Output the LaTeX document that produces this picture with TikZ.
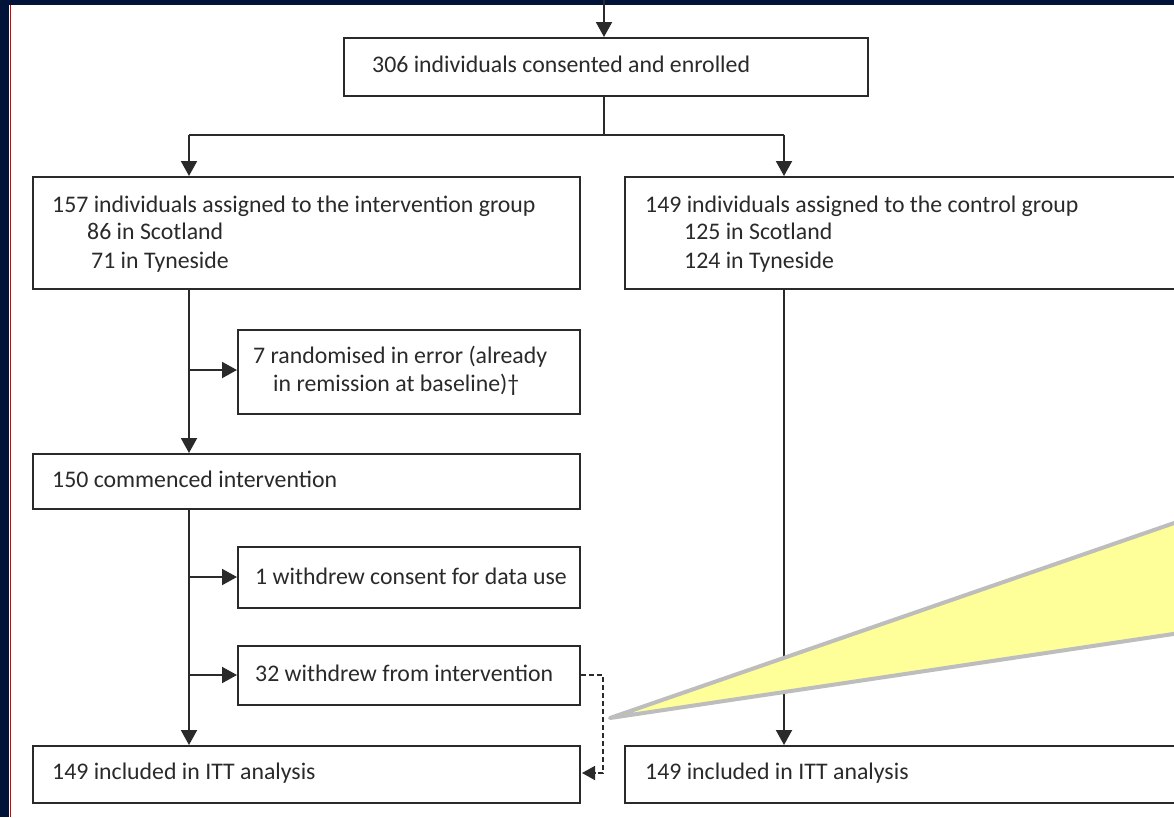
\documentclass[tikz,border=0pt]{standalone}
\usepackage{fontspec}
\setmainfont{Carlito}
\usetikzlibrary{arrows.meta}
\definecolor{navy}{HTML}{011338}
\definecolor{ink}{HTML}{2A2A2A}
\definecolor{wedge}{HTML}{FFFF99}
\definecolor{wedgeline}{HTML}{BDBDBD}
\tikzset{
  box/.style={draw=ink, line width=2pt, rectangle, inner sep=0pt, anchor=north west},
  txt/.style={anchor=base west, inner sep=0pt, text=ink, font=\fontsize{23.8}{24}\selectfont},
  flow/.style={draw=ink, line width=2pt, -{Triangle[length=15pt,width=16pt]}},
  plain/.style={draw=ink, line width=2pt},
}
\begin{document}
\begin{tikzpicture}[x=1pt,y=-1pt]
\useasboundingbox (0,0) rectangle (1174,817);
\fill[white] (0,0) rectangle (1174,817);
\fill[navy] (0,0) rectangle (1174,5);
\fill[navy] (0,0) rectangle (9,817);
\draw[red!85!black, line width=1pt] (10,5) -- (10,817);
% boxes
\node[box, minimum width=524pt, minimum height=58pt] (b1) at (343,37) {};
\node[box, minimum width=547pt, minimum height=112pt] (iv) at (32,176) {};
\node[box, minimum width=560pt, minimum height=112pt] (ct) at (624,176) {};
\node[box, minimum width=342pt, minimum height=84pt] (err) at (237,329) {};
\node[box, minimum width=547pt, minimum height=55pt] (com) at (32,453) {};
\node[box, minimum width=342pt, minimum height=61pt] (wc) at (237,546) {};
\node[box, minimum width=342pt, minimum height=59pt] (wi) at (237,645) {};
\node[box, minimum width=547pt, minimum height=57pt] (ittl) at (32,745) {};
\node[box, minimum width=560pt, minimum height=57pt] (ittr) at (624,745) {};
% texts
\node[txt] at (372,72) {306 individuals consented and enrolled};
\node[txt] at (52,212) {157 individuals assigned to the intervention group};
\node[txt] at (87,239) {86 in Scotland};
\node[txt] at (91,268) {71 in Tyneside};
\node[txt] at (645,212) {149 individuals assigned to the control group};
\node[txt] at (684,239) {125 in Scotland};
\node[txt] at (684,268) {124 in Tyneside};
\node[txt] at (253,363) {7 randomised in error (already};
\node[txt] at (273,391) {in remission at baseline)†};
\node[txt] at (52,487) {150 commenced intervention};
\node[txt] at (255,584) {1 withdrew consent for data use};
\node[txt] at (255,681) {32 withdrew from intervention};
\node[txt] at (52,779) {149 included in ITT analysis};
\node[txt] at (645,779) {149 included in ITT analysis};
% connectors
\coordinate (top) at (604,0);
\draw[flow] (top) -- (b1.north -| top);
\coordinate (split) at (604,135);
\draw[plain] (b1.south -| split) -- (split);
\draw[plain] (189,135) -- (784,135);
\draw[flow] (189,135) -- (189,176);
\draw[flow] (784,135) -- (784,176);
\draw[flow] (189,288) -- (189,453);
\draw[flow] (189,370) -- (err.west |- 0,370);
\draw[flow] (189,508) -- (189,745);
\draw[flow] (189,577) -- (wc.west |- 0,577);
\draw[flow] (189,675) -- (wi.west |- 0,675);
\draw[flow] (784,288) -- (784,745);
\draw[draw=ink, line width=1.6pt, dash pattern=on 5pt off 3pt, -{Triangle[length=13pt,width=14pt]}]
  (wi.east |- 0,675) -- (603,675) -- (603,773) -- (582,773);
% callout wedge
\draw[fill=wedge, draw=wedgeline, line width=4pt, line join=round]
  (1180,521) -- (610,718) -- (1180,633);
\end{tikzpicture}
\end{document}
